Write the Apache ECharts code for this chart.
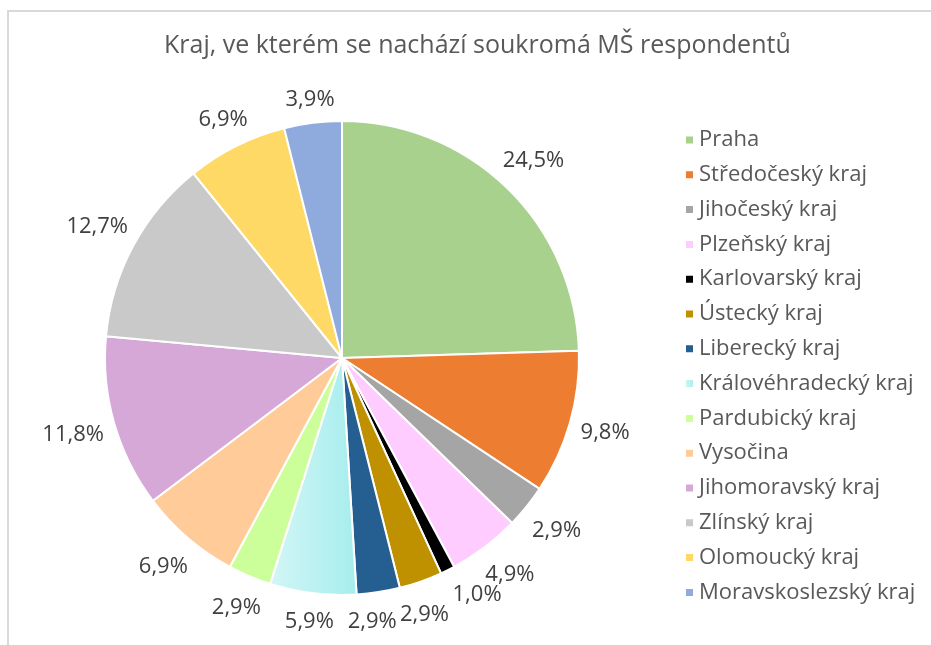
<!DOCTYPE html>
<html>
<head>
<meta charset="utf-8">
<script src="https://cdn.jsdelivr.net/npm/echarts@6/dist/echarts.min.js"></script>
<style>
  html, body { margin: 0; padding: 0; background: #fff; }
  #chart { width: 931px; height: 645px; }
</style>
</head>
<body>
<div id="chart"></div>
<script>
// kraje a počty respondentů (procenta se počítají z počtů)
var regions = ['Praha', 'Středočeský kraj', 'Jihočeský kraj', 'Plzeňský kraj', 'Karlovarský kraj',
  'Ústecký kraj', 'Liberecký kraj', 'Královéhradecký kraj', 'Pardubický kraj', 'Vysočina',
  'Jihomoravský kraj', 'Zlínský kraj', 'Olomoucký kraj', 'Moravskoslezský kraj'];
var counts = [25, 10, 3, 5, 1, 3, 3, 6, 3, 7, 12, 13, 7, 4];
var colors = ['#A9D18E', '#ED7D31', '#A5A5A5', '#FFCCFF', '#000000', '#BF9000', '#255E91',
  { type: 'linear', x: 0, y: 0, x2: 1, y2: 0, colorStops: [{ offset: 0, color: '#D3F6F6' }, { offset: 1, color: '#A6EDED' }] },
  '#CCFF99', '#FFCC99', '#D6A8D8', '#C9C9C9', '#FFD966', '#8FAADC'];

var total = counts.reduce(function (a, b) { return a + b; }, 0);
var CX = 342, CY = 358, R = 237;
var FONT = 'Open Sans', LABEL_SIZE = 22;

function pct(v) {
  return (v / total * 100).toFixed(1).replace('.', ',') + '%';
}

// rozmístění popisků okolo koláče (jako Excel „nejlepší umístění“)
var ctx = document.createElement('canvas').getContext('2d');
ctx.font = LABEL_SIZE + 'px "' + FONT + '"';
var labels = [];
var acc = 0;
counts.forEach(function (c) {
  labels.push({ a: (acc + c / 2) / total * 2 * Math.PI, w: ctx.measureText(pct(c)).width, h: 30 });
  acc += c;
});
function place(l) {
  var ux = Math.sin(l.a), uy = -Math.cos(l.a);
  var d = R + 8 + 3 * uy + Math.abs(ux) * l.w / 2 + Math.abs(uy) * l.h / 2;
  l.x = CX + ux * d;
  l.y = CY + uy * d;
}
labels.forEach(place);
for (var it = 0; it < 200; it++) {
  var moved = false;
  for (var i = 0; i < labels.length - 1; i++) {
    var p = labels[i], q = labels[i + 1];
    if (Math.abs(p.x - q.x) < (p.w + q.w) / 2 + 3 && Math.abs(p.y - q.y) < 20) {
      p.a -= 0.002;
      q.a += 0.002;
      place(p);
      place(q);
      moved = true;
    }
  }
  if (!moved) break;
}

var chart = echarts.init(document.getElementById('chart'));

chart.setOption({
  animation: false,
  color: colors,
  title: {
    text: 'Kraj, ve kterém se nachází soukromá MŠ respondentů',
    left: 159,
    top: 28,
    textStyle: { fontFamily: FONT, fontSize: 25, fontWeight: 'normal', color: '#595959' }
  },
  legend: {
    orient: 'vertical',
    left: 679,
    top: 123,
    icon: 'rect',
    itemWidth: 9,
    itemHeight: 9,
    itemGap: 10.8,
    textStyle: { fontFamily: FONT, fontSize: 22, lineHeight: 24, color: '#595959' },
    data: regions
  },
  graphic: [{
    type: 'rect',
    shape: { x: 8, y: 11, width: 960, height: 700 },
    style: { fill: 'none', stroke: '#D9D9D9', lineWidth: 2 },
    silent: true
  }],
  series: [{
    type: 'pie',
    center: [CX, CY],
    radius: R,
    startAngle: 90,
    avoidLabelOverlap: false,
    itemStyle: { borderColor: '#fff', borderWidth: 2 },
    label: {
      show: true,
      position: 'outside',
      fontFamily: FONT,
      fontSize: LABEL_SIZE,
      color: '#404040',
      formatter: function (p) { return pct(p.value); }
    },
    labelLine: { show: false, length: 10, length2: 0 },
    labelLayout: function (p) {
      var l = labels[p.dataIndex];
      return { x: l.x, y: l.y, align: 'center', verticalAlign: 'middle' };
    },
    emphasis: { disabled: true },
    data: regions.map(function (name, i) { return { name: name, value: counts[i] }; })
  }]
});
</script>
</body>
</html>
